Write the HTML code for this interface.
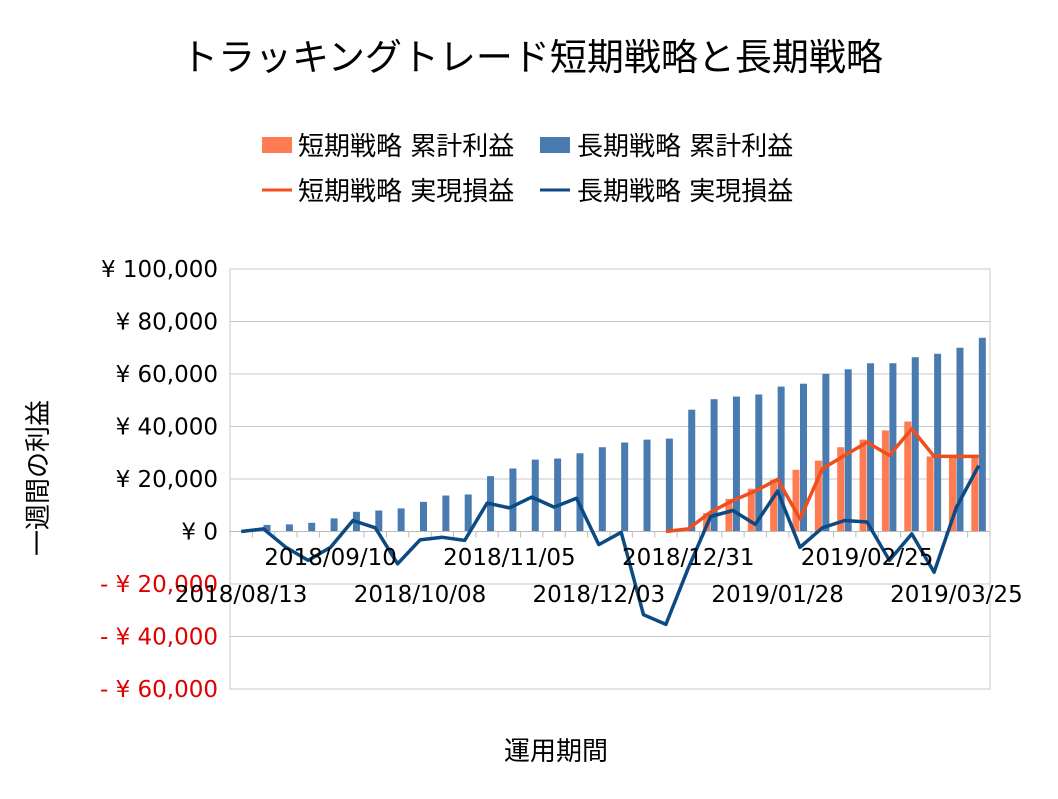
<!DOCTYPE html>
<html><head><meta charset="utf-8">
<style>
body{margin:0;background:#fff;}
svg text{font-family:"DejaVu Sans","Noto Sans CJK JP",sans-serif;}
</style></head>
<body>
<svg id="chart" width="1058" height="794" xmlns="http://www.w3.org/2000/svg">
<rect width="1058" height="794" fill="#fff"/>
<text x="532" y="70" font-size="37" text-anchor="middle" fill="#000">トラッキングトレード短期戦略と長期戦略</text>
<g>
<g><rect x="262" y="137" width="30" height="16" fill="#FF7B52"/><text x="298" y="155" font-size="26">短期戦略 累計利益</text></g>
<g><rect x="540" y="137" width="30" height="16" fill="#4A7BB0"/><text x="577" y="155" font-size="26">長期戦略 累計利益</text></g>
<g><line x1="262" y1="190" x2="292" y2="190" stroke="#F04E1C" stroke-width="3"/><text x="298" y="200" font-size="26">短期戦略 実現損益</text></g>
<g><line x1="540" y1="190" x2="570" y2="190" stroke="#0E4A82" stroke-width="3"/><text x="577" y="200" font-size="26">長期戦略 実現損益</text></g>
</g>
<text transform="translate(47,478) rotate(-90)" font-size="26" text-anchor="middle">一週間の利益</text>
<text x="556" y="760" font-size="26" text-anchor="middle">運用期間</text>
<g id="plot"></g>
</svg>
<script>
const categories=["2018/08/13","2018/08/20","2018/08/27","2018/09/03","2018/09/10","2018/09/17","2018/09/24","2018/10/01","2018/10/08","2018/10/15","2018/10/22","2018/10/29","2018/11/05","2018/11/12","2018/11/19","2018/11/26","2018/12/03","2018/12/10","2018/12/17","2018/12/24","2018/12/31","2019/01/07","2019/01/14","2019/01/21","2019/01/28","2019/02/04","2019/02/11","2019/02/18","2019/02/25","2019/03/04","2019/03/11","2019/03/18","2019/03/25","2019/04/01"];
const longCumulative=[0,2500,2700,3300,5000,7500,8000,8800,11300,13700,14100,21100,24000,27400,27800,29800,32100,33900,35000,35400,46400,50400,51400,52200,55200,56300,60100,61800,64100,64100,66400,67700,70000,73800];
const shortCumulative=[null,null,null,null,null,null,null,null,null,null,null,null,null,null,null,null,null,null,null,null,1200,7000,12400,16300,19700,23500,27000,32100,35000,38500,41900,28600,28300,28300];
const longRealized=[0,1000,-6000,-11000,-6000,4200,1400,-12300,-3200,-2200,-3400,10800,9000,13100,9300,12700,-5000,-300,-31700,-35400,-14000,5700,8000,2700,15400,-6000,1400,4200,3600,-11000,-900,-15500,9300,25100];
const shortRealized=[null,null,null,null,null,null,null,null,null,null,null,null,null,null,null,null,null,null,null,0,1000,7400,11800,15400,19900,4800,23900,29000,34000,29000,39100,28600,28600,28600];
const yTicks=[100000,80000,60000,40000,20000,0,-20000,-40000,-60000];
const yTickLabels=["¥ 100,000","¥ 80,000","¥ 60,000","¥ 40,000","¥ 20,000","¥ 0","- ¥ 20,000","- ¥ 40,000","- ¥ 60,000"];

const NS="http://www.w3.org/2000/svg";
const g=document.getElementById('plot');
const X0=230,X1=990,YT=269,YB=689,VMAX=100000,VMIN=-60000;
const cw=(X1-X0)/categories.length;
function xc(i){return X0+cw*(i+0.5);}
function y(v){return YT+(VMAX-v)/(VMAX-VMIN)*(YB-YT);}
function mk(t,a){const e=document.createElementNS(NS,t);for(const k in a)e.setAttribute(k,a[k]);g.appendChild(e);return e;}

yTicks.forEach((v,i)=>{
  const l=mk('line',{x1:X0,x2:X1,y1:y(v),y2:y(v),stroke:'#c8c8c8','stroke-width':1});
  
  
  const neg=v<0;
  const t=mk('text',{x:218,y:y(v)+8,'font-size':23,'text-anchor':'end',fill:neg?'#E00000':'#000'});
  t.textContent=yTickLabels[i];
  
  
});
const border=mk('rect',{x:X0,y:YT,width:X1-X0,height:YB-YT,fill:'none',stroke:'#c8c8c8'});



categories.forEach((c,i)=>{
  const cx=xc(i);
  if(longCumulative[i]){
    const r=mk('rect',{x:cx,y:y(longCumulative[i]),width:7,height:y(0)-y(longCumulative[i]),fill:'#4A7BB0'});
    
    
  }
  if(shortCumulative[i]!=null){
    const r=mk('rect',{x:cx-7.5,y:y(shortCumulative[i]),width:7,height:y(0)-y(shortCumulative[i]),fill:'#FF7B52'});
    
    
  }
});
const ax=mk('line',{x1:X0,x2:X1,y1:y(0),y2:y(0),stroke:'#bbb'});


for(let i=0;i<=categories.length;i++){
  const tk=mk('line',{x1:X0+cw*i,x2:X0+cw*i,y1:y(0),y2:y(0)+6,stroke:'#bbb'});
  
  
}
function line(vals,col,name){
  let d='';vals.forEach((v,i)=>{if(v==null)return;d+=(d?'L':'M')+xc(i).toFixed(1)+','+y(v).toFixed(1);});
  const p=mk('path',{d:d,fill:'none',stroke:col,'stroke-width':3.5,'stroke-linejoin':'round'});
  
  
}
line(shortRealized,'#F04E1C','line-short-realized');
line(longRealized,'#0E4A82','line-long-realized');

categories.forEach((c,i)=>{
  if(i%4!==0)return;
  const row=(i/4)%2;
  const t=mk('text',{x:xc(i),y:row?565:602,'font-size':23,'text-anchor':'middle',fill:'#000'});
  t.textContent=c;
  
  
});
</script>
</body></html>
